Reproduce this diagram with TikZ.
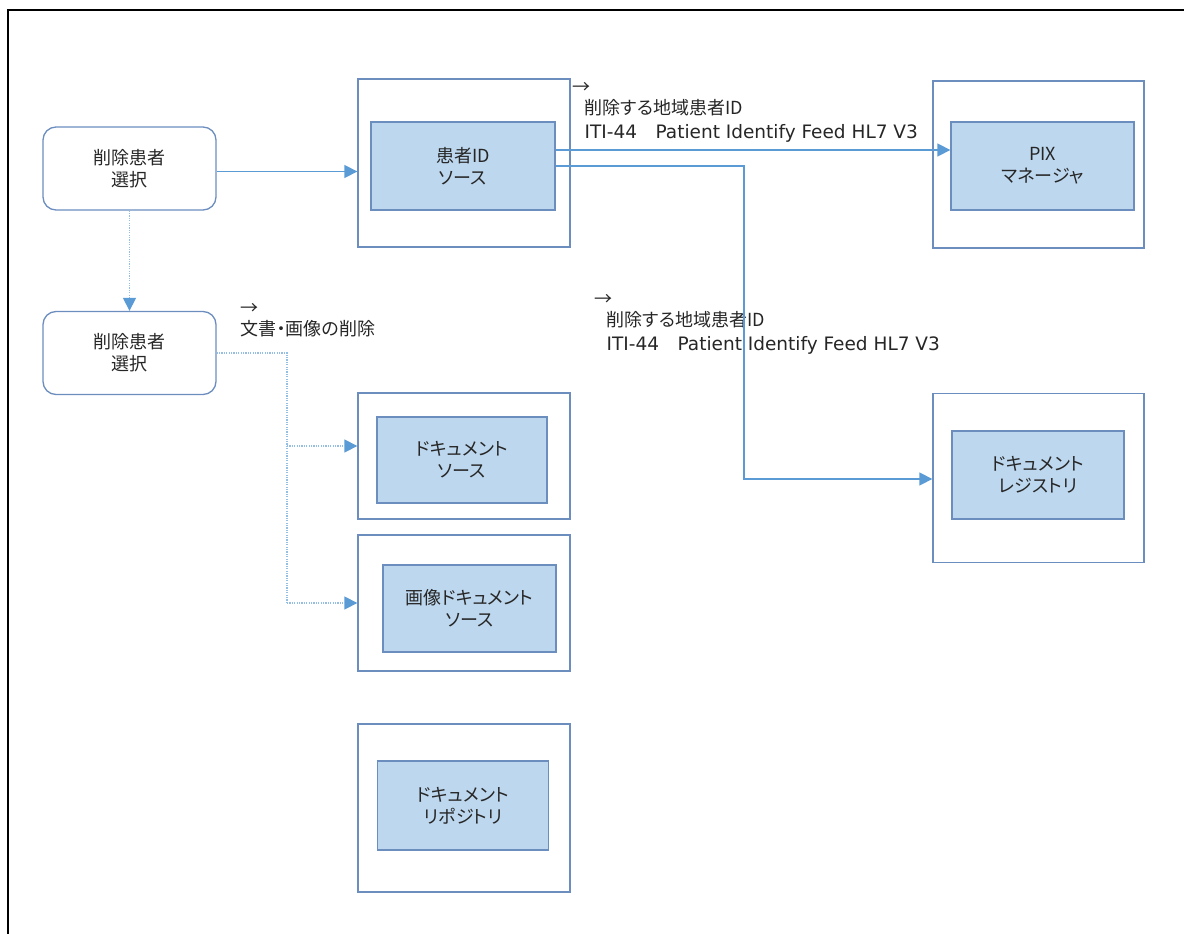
\documentclass[tikz,border=0pt]{standalone}
\usepackage{fontspec}
\setmainfont{Noto Sans CJK JP}[RawFeature=+palt]
\newfontfamily\feedfont{DejaVu Sans}
\usetikzlibrary{arrows.meta}
\definecolor{edgeblue}{HTML}{5B9BD5}
\definecolor{lineblue}{HTML}{6C8EBF}
\definecolor{fillblue}{HTML}{BDD7EE}

\begin{document}
\begin{tikzpicture}[x=1pt,y=-1pt,line width=1.3pt,
    font=\fontsize{18}{22}\selectfont,text=black!85,
    outerbox/.style={draw=lineblue,fill=white,inner sep=0pt},
    innerbox/.style={draw=lineblue,fill=fillblue,inner sep=0pt,align=center},
    selbox/.style={draw=lineblue,rounded corners=13pt,align=center,
      minimum width=173pt,minimum height=83pt},
    flow/.style={draw=edgeblue,-{Triangle[length=13pt,width=13pt]}},
    hint/.style={draw=edgeblue!65,dash pattern=on 1.2pt off 1.2pt},
    hinttip/.style={-{Triangle[length=13pt,width=13pt,color=edgeblue]}},
    memo/.style={anchor=north west,align=left,inner sep=0pt,
      font=\fontsize{18}{24}\selectfont}]
  \useasboundingbox (0,0) rectangle (1184,934);
  \draw[line width=2pt] (8,934) -- (8,10) -- (1184,10);

  \node[selbox] (sel-a) at (129.5,168.5) {削除患者\\選択};
  \node[selbox] (sel-b) at (129.5,353) {削除患者\\選択};

  \foreach \id/\ox/\oy/\ow/\oh/\ix/\iy/\iw/\ih/\txt in {%
      src/464/163/212/168/463/166/184/88/{患者ID\\ソース},
      pix/1038.5/164.5/211/167/1042.5/166/183/88/{PIX\\マネージャ},
      reg/1038.5/478/211/169/1038/475/172/88/{ドキュメント\\レジストリ},
      doc/464/456/212/126/462/460/170/86/{ドキュメント\\ソース},
      img/464/603/212/136/469.5/608.5/173/87/{画像ドキュメント\\ソース},
      rep/464/808/212/168/463/805.5/171/89/{ドキュメント\\リポジトリ}}{%
    \node[outerbox,minimum width=\ow pt,minimum height=\oh pt] (\id-out) at (\ox,\oy) {};
    \node[innerbox,minimum width=\iw pt,minimum height=\ih pt] (\id-in) at (\ix,\iy) {\txt};
  }

  \node[memo] (memo-pix) at (572,82) {→\\[-3pt]\hspace*{12pt}削除する地域患者ID\\
    \hspace*{12pt}{\feedfont\fontsize{18.5}{24}\selectfont ITI-44\hspace{1em}Patient Identify Feed HL7 V3}};
  \node[memo] (memo-reg) at (594,294) {→\\[-3pt]\hspace*{12pt}削除する地域患者ID\\
    \hspace*{12pt}{\feedfont\fontsize{18.5}{24}\selectfont ITI-44\hspace{1em}Patient Identify Feed HL7 V3}};
  \node[memo] (memo-del) at (240,303) {→\\[-3pt]文書・画像の削除};

  \coordinate (turn) at (744,479);
  \coordinate (tap-a) at (287,446);
  \coordinate (tap-b) at (287,603);

  \draw[flow] ([yshift=-3pt]sel-a.east) -- ([yshift=-3pt]sel-a.east -| src-out.west);
  \draw[hint,hinttip] (sel-a.south) -- (sel-b.north);
  \draw[flow] ([yshift=16pt]src-in.east) -- ([yshift=16pt]src-in.east -| pix-in.west);
  \draw[flow] (src-in.east) -| (turn) -- (turn -| reg-out.west);
  \draw[hint] (sel-b.east) -| (tap-b);
  \draw[hint,hinttip] (tap-a) -- (tap-a -| doc-out.west);
  \draw[hint,hinttip] (tap-b) -- (tap-b -| img-out.west);
\end{tikzpicture}
\end{document}
